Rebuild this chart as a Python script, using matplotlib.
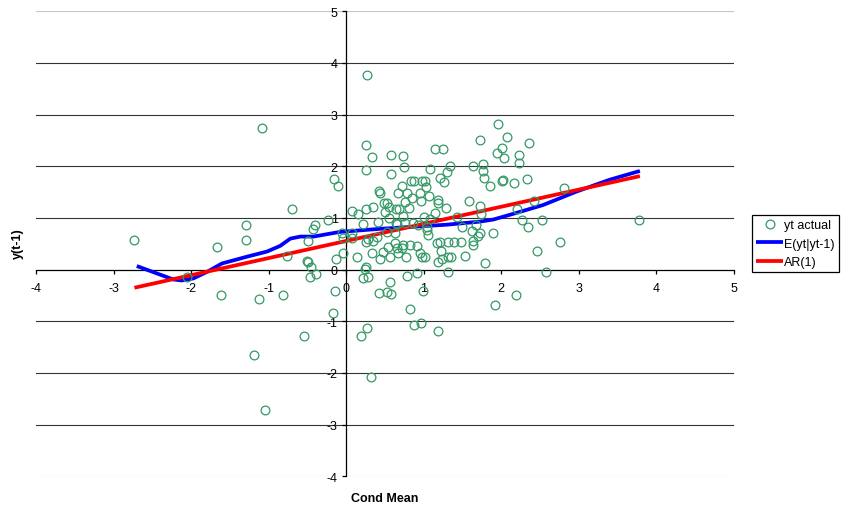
import numpy as np
import matplotlib
matplotlib.use('Agg')
import matplotlib.pyplot as plt

plt.rcParams['font.family'] = ['Liberation Sans', 'DejaVu Sans']
plt.rcParams['font.size'] = 9
plt.rcParams['axes.unicode_minus'] = False

# Valores observados (x = media condicional, y = y(t-1))
actual_x = [-2.73, 0.27, -1.08, -0.70, -1.29, -1.29, -1.66, -2.05, -1.61, -1.12,
            -0.82, -0.76, -1.19, -1.04, -0.54, -0.46, -0.39, -0.14, -0.17, 0.19,
            0.27, 0.32, 0.22, 0.28, 0.24, 0.43, 0.53, 0.58, 0.57, 0.79,
            0.91, 1.31, 0.82, 0.88, 0.97, 0.99, 1.19, 1.92, 2.19, 2.58,
            1.79, 1.19, 1.24, 1.31, 1.35, 1.53, 1.22, 1.02, 2.46, 2.76,
            1.17, 1.21, 1.31, 1.39, 1.48, 1.64, 1.64, 1.70, 1.73, 1.62,
            1.49, 1.68, 1.89, 2.35, 2.27, 2.53, 1.06, 1.04, 3.78, 1.96,
            2.07, 1.73, 2.36, 1.15, 1.25, 2.01, 1.95, 2.04, 2.23, 2.23,
            1.08, 1.34, 1.30, 1.64, 1.77, 1.77, 1.78, 1.21, 1.26, 1.02,
            1.03, 2.01, 2.02, 2.16, 2.33, 1.86, 1.07, 1.19, 1.19, 1.29,
            1.59, 1.73, 1.74, 1.43, 1.08, 2.20, 2.42, 2.81, 0.26, 0.34,
            0.58, 0.73, 0.26, 0.75, 0.58, -0.15, -0.10, 0.84, 0.88, 0.98,
            0.72, 0.43, 0.44, 0.67, 0.79, 0.95, 0.85, 0.76, 0.97, 0.08,
            0.15, 0.26, 0.35, 0.49, 0.53, 0.55, 0.64, 0.68, 0.81, 0.50,
            0.73, -0.23, -0.40, 0.22, 0.41, 0.55, 0.64, -0.43, -0.05, 0.08,
            -0.04, -0.13, 0.14, 0.26, 0.26, 0.28, 0.44, 0.54, 0.66, 0.73,
            0.77, 0.91, 0.98, 0.63, 0.63, 0.53, 0.66, 0.76, 0.86, 0.93,
            1.04, 1.15, 1.01, -0.49, -0.50, -0.49, -0.45, 0.34, 0.48, 0.57,
            0.67, 0.72, 0.82, 0.95, 0.35, 0.40, 0.08, -0.04]
actual_y = [0.58, 3.76, 2.74, 1.18, 0.87, 0.58, 0.44, -0.15, -0.50, -0.56,
            -0.50, 0.27, -1.66, -2.72, -1.29, -0.14, -0.08, -0.41, -0.83, -1.29,
            -1.12, -2.07, -0.17, -0.14, 0.02, -0.46, -0.44, -0.48, -0.23, -0.12,
            -0.06, -0.04, -0.77, -1.08, -1.04, -0.41, -1.18, -0.69, -0.50, -0.04,
            0.12, 0.14, 0.21, 0.25, 0.25, 0.27, 0.37, 0.25, 0.37, 0.54,
            0.52, 0.54, 0.54, 0.54, 0.54, 0.48, 0.56, 0.66, 0.71, 0.75,
            0.83, 0.87, 0.71, 0.83, 0.97, 0.97, 0.68, 0.83, 0.97, 2.82,
            2.57, 2.51, 2.45, 2.34, 2.34, 2.36, 2.26, 2.16, 2.22, 2.07,
            1.95, 2.01, 1.89, 2.01, 2.05, 1.91, 1.78, 1.78, 1.70, 1.72,
            1.60, 1.72, 1.74, 1.68, 1.76, 1.62, 1.43, 1.35, 1.29, 1.20,
            1.33, 1.24, 1.08, 1.02, 0.98, 1.18, 1.33, 1.58, 2.41, 2.18,
            2.22, 2.20, 1.93, 1.99, 1.85, 1.76, 1.62, 1.72, 1.72, 1.72,
            1.62, 1.53, 1.49, 1.49, 1.49, 1.49, 1.39, 1.31, 1.33, 1.14,
            1.08, 1.18, 1.22, 1.29, 1.29, 1.22, 1.18, 1.18, 1.20, 1.12,
            1.04, 0.97, 0.87, 0.89, 0.93, 1.00, 0.91, 0.79, 0.71, 0.62,
            0.33, 0.21, 0.25, 0.06, 0.54, 0.60, 0.21, 0.44, 0.42, 0.48,
            0.25, 0.46, 0.25, 0.52, 0.71, 0.73, 0.89, 0.91, 0.91, 0.87,
            0.77, 1.10, 1.02, 0.56, 0.17, 0.14, 0.06, 0.33, 0.35, 0.25,
            0.33, 0.41, 0.48, 0.33, 0.56, 0.64, 0.71, 0.62]

# Media condicional no parametrica E(yt|yt-1)
cond_x = [-2.70, -2.23, -2.12, -1.97, -1.79, -1.60, -1.28, -1.02, -0.85, -0.72,
          -0.59, -0.42, -0.08, 0.44, 0.87, 1.30, 1.73, 1.90, 2.11, 2.54,
          2.97, 3.40, 3.79]
cond_y = [0.07, -0.19, -0.21, -0.17, -0.04, 0.12, 0.25, 0.35, 0.46, 0.60,
          0.64, 0.64, 0.73, 0.79, 0.83, 0.87, 0.93, 0.97, 1.06, 1.25,
          1.51, 1.74, 1.91]

# Ajuste AR(1)
ar_x = [-2.73, 3.79]
ar_y = [-0.35, 1.81]

fig = plt.figure(figsize=(8.44, 5.10), dpi=100)
ax = fig.add_axes([36 / 844, 1 - 477.3 / 510, (733.7 - 36) / 844, (477.3 - 12.3) / 510])

# lineas horizontales
for yv in range(-3, 5):
    if yv != 0:
        ax.axhline(yv, color='#333333', lw=0.8, zorder=1)
for yv in (-4, 5):
    ax.axhline(yv, color='#c4c4c4', lw=0.8, zorder=1)

ax.plot(cond_x, cond_y, color='#0000ff', lw=2.7, solid_capstyle='butt',
        label='E(yt|yt-1)', zorder=3)
ax.plot(ar_x, ar_y, color='#ff0000', lw=2.7, solid_capstyle='butt',
        label='AR(1)', zorder=4)
ax.plot(actual_x, actual_y, linestyle='none', marker='o', ms=6.3,
        mfc='none', mec='#339966', mew=0.9, label='yt actual', zorder=5)

ax.set_xlim(-4, 5)
ax.set_ylim(-4, 5)
ax.set_xticks(np.arange(-4, 6))
ax.set_yticks(np.arange(-4, 6))

# ejes cruzando en el origen
ax.spines['left'].set_position(('data', 0))
ax.spines['bottom'].set_position(('data', 0))
ax.spines['top'].set_visible(False)
ax.spines['right'].set_visible(False)
for s in ('left', 'bottom'):
    ax.spines[s].set_linewidth(0.9)
    ax.spines[s].set_zorder(2)
ax.tick_params(axis='both', direction='out', length=3, width=0.9, labelsize=9)
ax.tick_params(axis='x', pad=6)
ax.tick_params(axis='y', pad=3)
ax.patch.set_visible(False)

fig.text(385 / 844, 1 - 499 / 510, 'Cond Mean', fontweight='bold',
         ha='center', va='center')
fig.text(18 / 844, 1 - 244 / 510, 'y(t-1)', fontweight='bold',
         rotation=90, ha='center', va='center')

h, l = ax.get_legend_handles_labels()
order = [2, 0, 1]
leg = ax.legend([h[i] for i in order], [l[i] for i in order],
                loc='upper left', bbox_to_anchor=(752 / 844, 1 - 216 / 510),
                bbox_transform=fig.transFigure, fancybox=False, framealpha=1,
                edgecolor='black', borderpad=0.35, handlelength=2.1,
                handletextpad=0.1, labelspacing=0.5, borderaxespad=0)
leg.get_frame().set_linewidth(0.9)

fig.savefig('out.png', dpi=100)
